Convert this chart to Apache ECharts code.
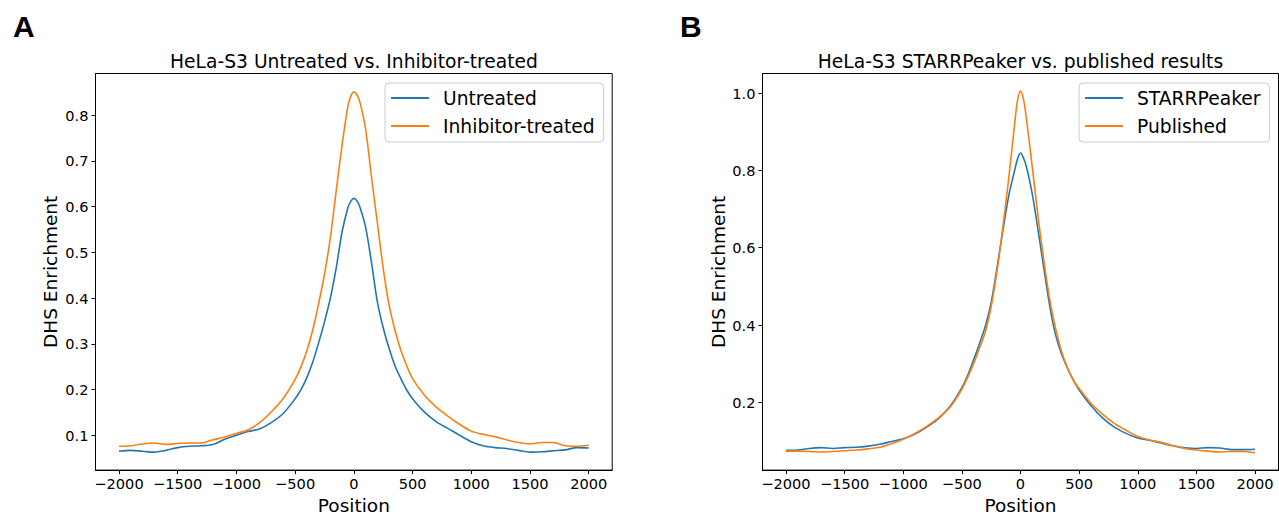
<!DOCTYPE html>
<html>
<head>
<meta charset="utf-8">
<script src="https://cdn.jsdelivr.net/npm/echarts@6/dist/echarts.min.js"></script>
<style>
  html, body { margin: 0; padding: 0; background: #fff; }
  #chart { width: 1279px; height: 520px; }
</style>
</head>
<body>
<div id="chart"></div>
<script>
// Positions (bp from DHS center)
const positions = [-2000,-1900,-1800,-1700,-1600,-1500,-1400,-1300,-1200,-1100,-1000,-900,-800,-700,-600,-500,
  -450,-400,-350,-300,-250,-200,-150,-100,-50,-25,0,25,50,100,150,200,250,300,350,400,450,
  500,600,700,800,900,1000,1100,1200,1300,1400,1500,1600,1700,1800,1900,2000];

// Panel A
const untreated = [0.065,0.067,0.065,0.063,0.067,0.073,0.076,0.077,0.080,0.091,0.100,0.108,0.114,0.128,0.148,0.180,
  0.200,0.226,0.260,0.302,0.348,0.400,0.466,0.545,0.598,
  0.612,0.618,0.613,
  0.600,0.555,0.478,0.392,0.335,0.290,0.252,0.224,0.199,
  0.180,0.151,0.130,0.115,0.100,0.086,0.077,0.073,0.071,0.067,0.063,0.064,0.066,0.068,0.073,0.072];
const inhibitor = [0.076,0.077,0.081,0.083,0.080,0.082,0.083,0.083,0.090,0.096,0.104,0.112,0.128,0.152,0.181,0.222,
  0.250,0.285,0.330,0.388,0.452,0.532,0.635,0.735,0.820,
  0.842,0.851,0.845,
  0.830,0.770,0.665,0.565,0.465,0.385,0.330,0.286,0.252,
  0.224,0.188,0.162,0.142,0.124,0.109,0.102,0.097,0.090,0.084,0.081,0.084,0.084,0.077,0.076,0.078];

// Panel B
const starrpeaker = [0.076,0.077,0.081,0.083,0.081,0.083,0.084,0.087,0.092,0.099,0.106,0.118,0.136,0.158,0.190,0.238,
  0.270,0.310,0.352,0.397,0.458,0.548,0.645,0.735,0.800,
  0.830,0.845,0.832,
  0.810,0.740,0.645,0.545,0.448,0.374,0.325,0.289,0.258,
  0.232,0.192,0.160,0.136,0.120,0.108,0.102,0.095,0.088,0.083,0.081,0.083,0.082,0.078,0.078,0.079];
const published = [0.074,0.074,0.073,0.072,0.073,0.075,0.077,0.080,0.084,0.093,0.105,0.120,0.138,0.160,0.188,0.234,
  0.265,0.300,0.340,0.382,0.448,0.540,0.655,0.780,0.920,
  0.982,1.005,0.985,
  0.935,0.810,0.680,0.565,0.465,0.390,0.332,0.290,0.258,
  0.236,0.198,0.170,0.146,0.128,0.112,0.103,0.097,0.088,0.081,0.077,0.074,0.072,0.073,0.073,0.070];

// Tick labels
const xTicks = [-2000,-1500,-1000,-500,0,500,1000,1500,2000];
const yTicksA = [0.1,0.2,0.3,0.4,0.5,0.6,0.7,0.8];
const yTicksB = [0.2,0.4,0.6,0.8,1.0];

const titles = ['HeLa-S3 Untreated vs. Inhibitor-treated', 'HeLa-S3 STARRPeaker vs. published results'];
const panelLetters = ['A', 'B'];
const xName = 'Position';
const yName = 'DHS Enrichment';

const BLUE = '#1f77b4', ORANGE = '#ff7f0e';
const FONT = '"DejaVu Sans", "Noto Sans", sans-serif';

const pair = (ys) => positions.map((p, i) => [p, ys[i]]);
const fmtX = v => (v < 0 ? '\u2212' + Math.abs(v) : String(v));

function xAxis(gi) {
  return {
    type: 'value', gridIndex: gi, min: -2200, max: 2200,
    name: xName, nameLocation: 'middle', nameGap: 24,
    nameTextStyle: { fontSize: 18.5, fontFamily: FONT, color: '#000' },
    axisLine: { show: true, onZero: false, lineStyle: { color: '#000', width: 1 } },
    axisTick: { show: true, length: 4, customValues: xTicks, lineStyle: { color: '#000', width: 1 } },
    axisLabel: { customValues: xTicks, formatter: fmtX, fontSize: 14.6, fontFamily: FONT, color: '#000', margin: 6 },
    splitLine: { show: false }
  };
}
function yAxis(gi, min, max, ticks, gap) {
  return {
    type: 'value', gridIndex: gi, min: min, max: max,
    name: yName, nameLocation: 'middle', nameGap: gap,
    nameTextStyle: { fontSize: 18.5, fontFamily: FONT, color: '#000' },
    axisLine: { show: true, onZero: false, lineStyle: { color: '#000', width: 1 } },
    axisTick: { show: true, length: 4, customValues: ticks, lineStyle: { color: '#000', width: 1 } },
    axisLabel: { customValues: ticks, formatter: v => v.toFixed(1), fontSize: 14.6, fontFamily: FONT, color: '#000', margin: 7 },
    splitLine: { show: false }
  };
}
function legend(left, names) {
  return {
    data: names, left: left, top: 83, orient: 'vertical',
    icon: 'rect', itemWidth: 38, itemHeight: 2, itemGap: 8,
    padding: [5, 9, 6, 6],
    backgroundColor: 'rgba(255,255,255,0.8)',
    borderColor: '#cccccc', borderWidth: 1, borderRadius: 4,
    textStyle: { fontSize: 18.7, fontFamily: FONT, color: '#000', padding: [0, 0, 0, 9], lineHeight: 20 }
  };
}
function line(name, data, color, gi) {
  return {
    name: name, type: 'line', data: pair(data), xAxisIndex: gi, yAxisIndex: gi,
    showSymbol: false, smooth: 0.3, color: color,
    lineStyle: { color: color, width: 1.6 }, itemStyle: { color: color }
  };
}

const chart = echarts.init(document.getElementById('chart'), null, { renderer: 'svg' });
chart.setOption({
  animation: false,
  backgroundColor: '#fff',
  grid: [
    { left: 95.5, top: 73.5, width: 516.7, height: 401.8, show: true, borderColor: '#000', borderWidth: 1, containLabel: false },
    { left: 762.5, top: 73.5, width: 516, height: 401.8, show: true, borderColor: '#000', borderWidth: 1, containLabel: false }
  ],
  xAxis: [xAxis(0), xAxis(1)],
  yAxis: [yAxis(0, 0.0238, 0.891, yTicksA, 36), yAxis(1, 0.025, 1.0506, yTicksB, 35)],
  legend: [legend(385, ['Untreated', 'Inhibitor-treated']), legend(1079, ['STARRPeaker', 'Published'])],
  series: [
    line('Untreated', untreated, BLUE, 0),
    line('Inhibitor-treated', inhibitor, ORANGE, 0),
    line('STARRPeaker', starrpeaker, BLUE, 1),
    line('Published', published, ORANGE, 1)
  ],
  graphic: [
    { type: 'text', x: 354, y: 61.5, style: { text: titles[0], align: 'center', verticalAlign: 'middle', fontSize: 18.7, fontFamily: FONT, fill: '#000' } },
    { type: 'text', x: 1020.5, y: 61.5, style: { text: titles[1], align: 'center', verticalAlign: 'middle', fontSize: 18.7, fontFamily: FONT, fill: '#000' } },
    { type: 'text', x: 13, y: 26.5, style: { text: panelLetters[0], align: 'left', verticalAlign: 'middle', fontSize: 30, fontWeight: 'bold', fontFamily: '"Liberation Sans", Arial, sans-serif', fill: '#000' } },
    { type: 'text', x: 680, y: 26.5, style: { text: panelLetters[1], align: 'left', verticalAlign: 'middle', fontSize: 30, fontWeight: 'bold', fontFamily: '"Liberation Sans", Arial, sans-serif', fill: '#000' } }
  ]
});
</script>
</body>
</html>
